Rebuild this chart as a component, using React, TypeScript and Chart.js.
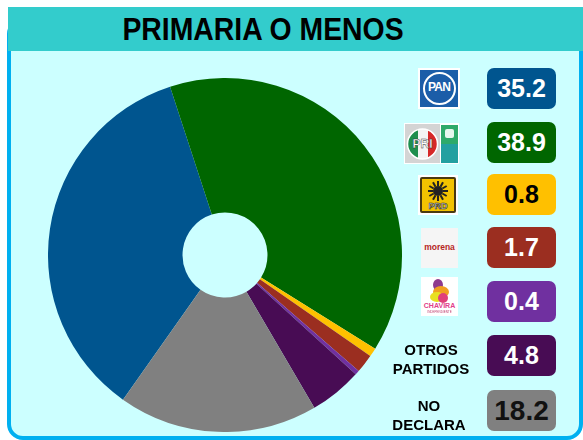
import React, { useEffect, useRef } from "react";
import { Chart, registerables } from "chart.js";

Chart.register(...registerables);

const TITLE = "PRIMARIA O MENOS";
const PARTIES = ["PAN", "PRI-PVEM", "PRD", "MORENA", "CHAVIRA", "OTROS PARTIDOS", "NO DECLARA"];
const VALUES = [35.2, 38.9, 0.8, 1.7, 0.4, 4.8, 18.2];
const LABELS = ["35.2", "38.9", "0.8", "1.7", "0.4", "4.8", "18.2"];
const COLORS = ["#00558F", "#006600", "#FFC000", "#9B2E20", "#7030A0", "#480C54", "#808080"];
const TEXT_COLORS = ["#fff", "#fff", "#000", "#fff", "#fff", "#fff", "#111"];
const ROTATION = -144.8;

const ROW_TOPS = [68, 122, 174, 227, 281, 335, 390];

function PanLogo() {
  return (
    <div style={{ position: "absolute", left: 418, top: 68, width: 42, height: 41, background: "#fff" }}>
      <div style={{ position: "absolute", left: 2, top: 2, width: 38, height: 37, background: "#1B5DA8" }}>
        <div style={{ position: "absolute", left: 3, top: 2, width: 29, height: 29, borderRadius: "50%", border: "2px solid #fff" }} />
        <div style={{ position: "absolute", left: 0, top: 10, width: 38, textAlign: "center", color: "#fff", fontFamily: "Liberation Sans, Arial", fontWeight: 700, fontSize: 12, letterSpacing: -0.8 }}>PAN</div>
      </div>
    </div>
  );
}

function PriLogo() {
  return (
    <div style={{ position: "absolute", left: 404, top: 123, width: 55, height: 41, background: "#fff" }}>
      <div style={{ position: "absolute", left: 1, top: 1, width: 35, height: 39, background: "#D4D4D4" }}>
        <svg width="35" height="39" style={{ position: "absolute", left: 0, top: 0 }}>
          <defs>
            <clipPath id="pric"><circle cx="17.5" cy="20" r="15" /></clipPath>
          </defs>
          <g clipPath="url(#pric)">
            <rect x="2" y="4" width="11" height="32" fill="#1E8E4E" />
            <rect x="13" y="4" width="10" height="32" fill="#F4F4F4" />
            <rect x="23" y="4" width="12" height="32" fill="#D62828" />
          </g>
          <circle cx="17.5" cy="20" r="15" fill="none" stroke="#fff" strokeWidth="1.5" />
          <text x="17.5" y="24" textAnchor="middle" fontFamily="Liberation Sans, Arial" fontWeight="700" fontSize="12" fill="#fff" stroke="#333" strokeWidth="0.4">PRI</text>
        </svg>
      </div>
      <div style={{ position: "absolute", left: 37, top: 2, width: 17, height: 38, background: "#2EAA6A" }}>
        <div style={{ position: "absolute", left: 0, top: 19, width: 17, height: 19, background: "#23A0A0" }} />
        <div style={{ position: "absolute", left: 4, top: 4, width: 9, height: 9, background: "#E7F7EE", borderRadius: 2 }} />
      </div>
    </div>
  );
}

function PrdLogo() {
  return (
    <div style={{ position: "absolute", left: 418, top: 175, width: 40, height: 40, background: "#fff" }}>
      <div style={{ position: "absolute", left: 2, top: 2, width: 32, height: 32, background: "#F3C300", border: "2px solid #4A3A10", borderRadius: 2 }}>
        <svg width="32" height="32" style={{ position: "absolute", left: 0, top: 0 }}>
          <circle cx="16" cy="12" r="5" fill="#222" />
          {Array.from({ length: 12 }).map((_, i) => {
            const a = (i / 12) * Math.PI * 2;
            return <line key={i} x1={16 + Math.cos(a) * 5} y1={12 + Math.sin(a) * 5} x2={16 + Math.cos(a) * 10} y2={12 + Math.sin(a) * 10} stroke="#222" strokeWidth="2" />;
          })}
          <text x="16" y="30" textAnchor="middle" fontFamily="Liberation Sans, Arial" fontWeight="700" fontSize="9" fill="#fff" stroke="#222" strokeWidth="0.6">PRD</text>
        </svg>
      </div>
    </div>
  );
}

function MorenaLogo() {
  return (
    <div style={{ position: "absolute", left: 421, top: 228, width: 37, height: 40, background: "#F5F5F5" }}>
      <div style={{ position: "absolute", left: 0, top: 14, width: 37, textAlign: "center", color: "#B5261E", fontFamily: "Liberation Sans, Arial", fontWeight: 700, fontSize: 8.5 }}>morena</div>
    </div>
  );
}

function ChaviraLogo() {
  return (
    <div style={{ position: "absolute", left: 421, top: 277, width: 37, height: 39, background: "#FFFFFF" }}>
      <svg width="37" height="39" style={{ position: "absolute", left: 0, top: 0 }}>
        <ellipse cx="17" cy="8" rx="5" ry="6" fill="#8E3A8E" />
        <ellipse cx="20" cy="15" rx="8" ry="6" fill="#F0A020" />
        <ellipse cx="16" cy="20" rx="7" ry="5" fill="#E8E020" />
        <ellipse cx="22" cy="21" rx="5" ry="5" fill="#E0407A" />
      </svg>
      <div style={{ position: "absolute", left: 0, top: 25, width: 37, textAlign: "center", color: "#E0408A", fontFamily: "Liberation Sans, Arial", fontWeight: 700, fontSize: 7 }}>CHAVIRA</div>
      <div style={{ position: "absolute", left: 0, top: 33, width: 37, textAlign: "center", color: "#C04070", fontFamily: "Liberation Sans, Arial", fontSize: 3 }}>INDEPENDIENTE</div>
    </div>
  );
}

export default function App() {
  const ref = useRef<HTMLCanvasElement>(null);

  useEffect(() => {
    if (!ref.current) return;
    const chart = new Chart(ref.current, {
      type: "doughnut",
      data: {
        labels: PARTIES,
        datasets: [
          {
            data: VALUES,
            backgroundColor: COLORS,
            borderWidth: 0,
            hoverOffset: 0,
          },
        ],
      },
      options: {
        responsive: false,
        animation: false,
        rotation: ROTATION,
        cutout: "24%",
        layout: { padding: 0 },
        plugins: { legend: { display: false }, tooltip: { enabled: false } },
      },
    });
    return () => chart.destroy();
  }, []);

  const font = "'Liberation Sans', Arial, sans-serif";

  return (
    <div style={{ position: "absolute", left: 0, top: 0, width: 583, height: 440, overflow: "hidden", background: "#fff", fontFamily: font }}>
      <div style={{ position: "absolute", left: 7, top: 18, width: 576, height: 422, boxSizing: "border-box", border: "4px solid #00B0F0", borderRadius: 16, background: "#CCFFFF" }} />
      <div style={{ position: "absolute", left: 8, top: 7, width: 575, height: 44, background: "#33CCCC" }} />
      <div style={{ position: "absolute", left: 0, top: 7, width: 526, height: 44, lineHeight: "44px", textAlign: "center", fontWeight: 700, fontSize: 32, color: "#000", transform: "scaleX(0.887)", transformOrigin: "263px 50%" }}>
        {TITLE}
      </div>
      <canvas ref={ref} width={354} height={354} style={{ position: "absolute", left: 48, top: 78, width: 354, height: 354 }} />
      <PanLogo />
      <PriLogo />
      <PrdLogo />
      <MorenaLogo />
      <ChaviraLogo />
      <div style={{ position: "absolute", left: 381, top: 340, width: 100, textAlign: "center", fontWeight: 700, fontSize: 15, lineHeight: "19px", color: "#000" }}>
        OTROS<br />PARTIDOS
      </div>
      <div style={{ position: "absolute", left: 379, top: 396, width: 100, textAlign: "center", fontWeight: 700, fontSize: 15, lineHeight: "19px", color: "#000" }}>
        NO<br />DECLARA
      </div>
      {LABELS.map((lab, i) => (
        <div
          key={i}
          style={{
            position: "absolute",
            left: 487,
            top: ROW_TOPS[i],
            width: 69,
            height: 41,
            borderRadius: 7,
            background: COLORS[i],
            color: TEXT_COLORS[i],
            textAlign: "center",
            lineHeight: "41px",
            fontWeight: 700,
            fontSize: i === 6 ? 28 : 25,
          }}
        >
          {lab}
        </div>
      ))}
    </div>
  );
}
